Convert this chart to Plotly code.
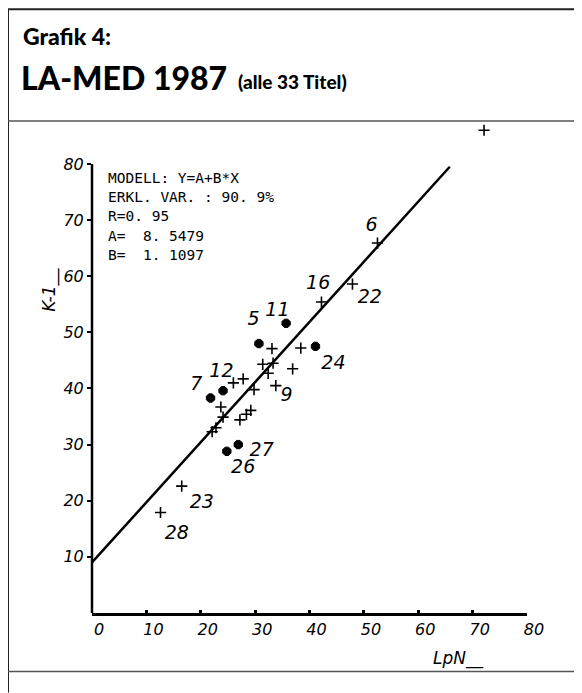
import plotly.graph_objects as go

# ---- data ----
plus_x = [52.5, 47.9, 42.2, 33.1, 38.4, 36.9, 31.4, 33.3, 32.4, 29.8, 33.8, 26.0, 27.8,
          23.7, 24.1, 27.2, 28.4, 29.2, 22.8, 22.1, 16.5, 12.6, 72.1]
plus_y = [65.9, 58.6, 55.4, 47.1, 47.2, 43.5, 44.3, 44.5, 42.7, 39.8, 40.5, 41.0, 41.7,
          36.7, 34.9, 34.4, 35.4, 36.1, 33.0, 32.3, 22.6, 17.9, 86.0]
blob_x = [35.7, 30.7, 41.1, 24.1, 21.8, 24.8, 26.9]
blob_y = [51.6, 48.0, 47.5, 39.6, 38.3, 28.8, 30.0]

label_text = ["6", "16", "22", "11", "5", "24", "12", "7", "9", "27", "26", "23", "28"]
label_x = [51.4, 41.6, 51.1, 34.1, 29.7, 44.4, 23.8, 19.2, 35.8, 31.2, 27.8, 20.2, 15.6]
label_y = [68.9, 58.6, 56.1, 53.7, 52.1, 44.4, 42.9, 40.5, 38.7, 28.8, 25.8, 19.5, 14.1]

line_x = [0, 65.8]
line_y = [9.0, 79.5]

tick_vals = [0, 10, 20, 30, 40, 50, 60, 70, 80]
tick_text = ["0", "10", "20", "30", "40", "50", "60", "70", "80"]
ytick_vals = [10, 20, 30, 40, 50, 60, 70, 80]
ytick_text = ["10", "20", "30", "40", "50", "60", "70", "80"]

model_lines = ["MODELL: Y=A+B*X", "ERKL. VAR. : 90. 9%", "R=0. 95", "A=  8. 5479", "B=  1. 1097"]

# ---- layout geometry (page body has an 8px margin) ----
OFF = 8
Y_TOP = 88                      # room above 80 for the outlying title
UNIT_Y = 5.62                   # px per y unit
Y0_SCREEN = 613.5               # screen y of y=0
W, H = 582 - OFF, 693 - OFF
L, R = 92 - OFF, 55
B = 693 - Y0_SCREEN
T = (Y0_SCREEN - Y_TOP * UNIT_Y) - OFF
PW, PH = W - L - R, H - T - B

def px(sx):
    return (sx - OFF - L) / PW

def py(sy):
    return (Y0_SCREEN - sy) / PH

TITLE_FONT = "Lato, Open Sans, sans-serif"
PLOT_FONT = "DejaVu Sans, sans-serif"

fig = go.Figure()

fig.add_trace(go.Scatter(x=line_x, y=line_y, mode="lines",
                         line=dict(color="black", width=2.5), hoverinfo="skip"))
fig.add_trace(go.Scatter(x=plus_x, y=plus_y, mode="markers",
                         marker=dict(symbol="cross-thin", size=8, color="black",
                                     line=dict(color="black", width=1.6))))
fig.add_trace(go.Scatter(x=blob_x, y=blob_y, mode="markers",
                         marker=dict(symbol="octagon", size=9, color="black",
                                     line=dict(color="black", width=1))))
fig.add_trace(go.Scatter(x=label_x, y=label_y, mode="text", text=label_text,
                         textfont=dict(family=PLOT_FONT, size=19, color="black", style="italic"),
                         textposition="middle center"))

annotations = []
annotations.append(dict(x=px(21), y=py(36), xref="paper", yref="paper", text="Grafik 4:",
                        showarrow=False, xanchor="left", yanchor="middle",
                        font=dict(family=TITLE_FONT, size=23, color="black", weight=900)))
annotations.append(dict(x=px(19), y=py(77), xref="paper", yref="paper", text="LA-MED 1987",
                        showarrow=False, xanchor="left", yanchor="middle",
                        font=dict(family=TITLE_FONT, size=32, color="black", weight=900)))
annotations.append(dict(x=px(236), y=py(81), xref="paper", yref="paper", text="(alle 33 Titel)",
                        showarrow=False, xanchor="left", yanchor="middle",
                        font=dict(family=TITLE_FONT, size=19, color="black", weight=900)))
for i, t in enumerate(model_lines):
    annotations.append(dict(x=px(106), y=py(178 + 19.2 * i), xref="paper", yref="paper", text=t,
                            showarrow=False, xanchor="left", yanchor="middle",
                            font=dict(family="DejaVu Sans Mono, monospace", size=14.5, color="black")))
annotations.append(dict(x=px(50), y=py(290), xref="paper", yref="paper", text="K-1__",
                        showarrow=False, textangle=-90, xanchor="center", yanchor="middle",
                        font=dict(family=PLOT_FONT, size=17, color="black", style="italic")))
annotations.append(dict(x=px(458), y=py(659), xref="paper", yref="paper", text="LpN__",
                        showarrow=False, xanchor="center", yanchor="middle",
                        font=dict(family=PLOT_FONT, size=17, color="black", style="italic")))

shapes = [
    # y axis line, from 0 up to the last tick
    dict(type="line", xref="paper", yref="y", x0=0, x1=0, y0=0, y1=ytick_vals[-1],
         line=dict(color="black", width=2.5)),
    # page frame and dividers
    dict(type="line", xref="paper", yref="paper", x0=px(8), x1=px(8), y0=py(9), y1=py(693),
         line=dict(color="#222", width=2)),
    dict(type="line", xref="paper", yref="paper", x0=px(8), x1=px(582), y0=py(9), y1=py(9),
         line=dict(color="#222", width=2)),
    dict(type="line", xref="paper", yref="paper", x0=px(8), x1=px(582), y0=py(121), y1=py(121),
         line=dict(color="#555", width=1.5)),
    dict(type="line", xref="paper", yref="paper", x0=px(8), x1=px(582), y0=py(672), y1=py(672),
         line=dict(color="#555", width=1.5)),
]

fig.update_layout(
    width=W, height=H, margin=dict(l=L, r=R, t=T, b=B, pad=0),
    paper_bgcolor="white", plot_bgcolor="rgba(0,0,0,0)", showlegend=False,
    annotations=annotations, shapes=shapes,
    xaxis=dict(range=[0, 80], tickvals=tick_vals, ticktext=tick_text, showgrid=False, zeroline=False,
               showline=True, linecolor="black", linewidth=2.5, ticks="inside", ticklen=3,
               tickwidth=3, tickcolor="black", ticklabelshift=7,
               tickfont=dict(family=PLOT_FONT, size=16, color="black", style="italic")),
    yaxis=dict(range=[0, Y_TOP], tickvals=ytick_vals, ticktext=ytick_text, showgrid=False, zeroline=False,
               showline=False, ticks="outside", ticklen=4,
               tickwidth=2, tickcolor="black",
               tickfont=dict(family=PLOT_FONT, size=16, color="black", style="italic")),
)

fig.write_html("out.html")
